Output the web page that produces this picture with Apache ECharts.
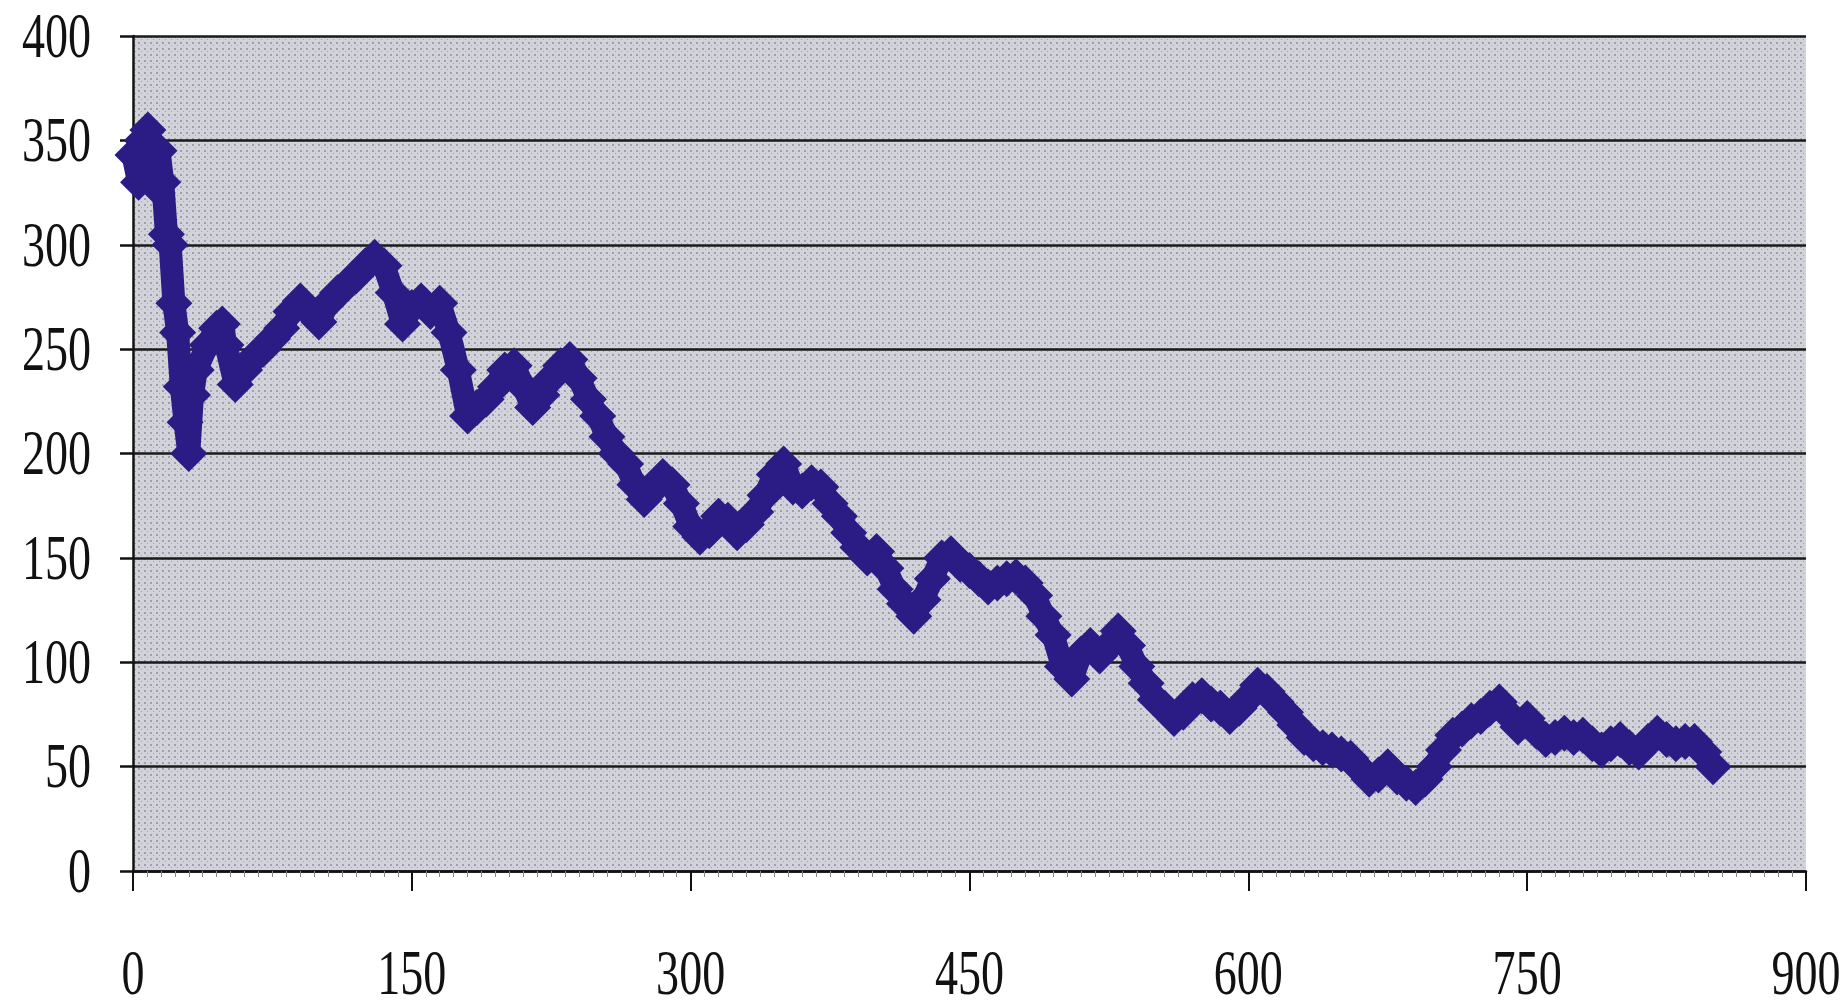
<!DOCTYPE html>
<html>
<head>
<meta charset="utf-8">
<script src="https://cdn.jsdelivr.net/npm/echarts@6/dist/echarts.min.js"></script>
<style>
html,body{margin:0;padding:0;background:#fff;}
#chart{width:1848px;height:1006px;}
</style>
</head>
<body>
<div id="chart"></div>
<script>
// x positions
const xValues = [0,3,5,8,10,12,14,16,18,20,22,24,26,28,30,32,34,
  40,45,48,50,55,60,65,70,75,80,85,90,95,100,105,110,115,120,125,130,135,140,145,
  150,155,160,165,170,175,180,185,190,195,200,205,210,215,220,225,230,235,240,245,
  250,255,260,265,270,275,280,285,290,295,300,305,310,315,320,325,330,335,340,345,
  350,355,360,365,370,375,380,385,390,395,400,405,410,415,420,425,430,435,440,445,
  450,455,460,465,470,475,480,485,490,495,500,505,510,515,520,525,530,535,540,545,
  550,555,560,565,570,575,580,585,590,595,600,605,610,615,620,625,630,635,640,645,
  650,655,660,665,670,675,680,685,690,695,700,705,710,715,720,725,730,735,740,745,
  750,755,760,765,770,775,780,785,790,795,800,805,810,815,820,825,830,835,840,845,850];
// values
const yValues = [343,330,350,355,340,328,345,330,305,300,272,258,232,215,200,228,240,
  252,260,262,252,233,240,246,250,255,260,268,273,268,263,272,277,281,285,290,294,290,277,262,
  270,273,268,272,258,240,218,222,226,232,240,242,232,222,228,236,242,245,236,226,
  218,208,200,195,185,178,183,189,185,176,165,160,163,170,168,162,166,172,180,190,
  195,184,182,186,184,176,170,162,155,150,153,145,135,128,122,130,140,150,152,147,
  144,140,136,138,140,141,138,132,122,113,98,92,104,108,103,108,115,108,98,90,
  82,78,73,76,82,84,80,78,74,78,83,89,86,81,76,70,64,61,59,58,
  56,54,49,44,46,50,45,42,40,44,50,58,65,68,72,74,78,81,75,69,
  73,67,63,64,66,64,65,61,58,61,63,59,57,62,66,63,61,62,62,57,50];
const xTicks = [0,150,300,450,600,750,900];
const yTicks = [0,50,100,150,200,250,300,350,400];

const data = xValues.map((x, i) => [x, yValues[i]]);

// dotted plot-area background
const pc = document.createElement('canvas');
pc.width = 6; pc.height = 6;
const px = pc.getContext('2d');
px.fillStyle = '#d2d2da';
px.fillRect(0, 0, 6, 6);
px.fillStyle = '#a0a0aa';
px.fillRect(0, 0, 2, 2);
px.fillRect(3, 3, 1, 1);

const chart = echarts.init(document.getElementById('chart'));
chart.setOption({
  animation: false,
  backgroundColor: '#ffffff',
  grid: {
    left: 133, right: 42, top: 36, bottom: 135,
    show: true,
    backgroundColor: {image: pc, repeat: 'repeat'},
    borderWidth: 0
  },
  xAxis: {
    type: 'value',
    min: xTicks[0], max: xTicks[xTicks.length - 1], interval: 150,
    axisLine: {show: true, onZero: false, lineStyle: {color: '#111', width: 2.5}},
    axisTick: {show: true, inside: false, length: 20, lineStyle: {color: '#111', width: 2}},
    minorTick: {show: true, splitNumber: 20, length: 6, lineStyle: {color: '#888', width: 1}},
    splitLine: {show: false},
    axisLabel: {show: false}
  },
  yAxis: {
    type: 'value',
    min: yTicks[0], max: yTicks[yTicks.length - 1], interval: 50,
    axisLine: {show: true, lineStyle: {color: '#111', width: 2.5}},
    axisTick: {show: true, inside: false, length: 13, lineStyle: {color: '#111', width: 2.5}},
    splitLine: {show: true, lineStyle: {color: '#1a1a1a', width: 2.5}},
    axisLabel: {show: false}
  },
  series: [{
    type: 'line',
    data: data,
    symbol: 'diamond',
    symbolSize: 37,
    showSymbol: true,
    showAllSymbol: true,
    lineStyle: {color: '#2b1b85', width: 23, join: 'round', cap: 'round'},
    itemStyle: {color: '#2b1b85'},
    z: 3
  }]
});

// Tick labels: narrow, tall serif digits like the reference, placed through the axes' own scales
const font = '64px "Liberation Serif", "Times New Roman", serif';
const labelEls = [];
yTicks.forEach(v => {
  const p = chart.convertToPixel({gridIndex: 0}, [xTicks[0], v]);
  labelEls.push({
    type: 'text', x: p[0] - 42, y: p[1] + 4, scaleX: 0.72, silent: true,
    style: {text: String(v), font: font, fill: '#111', align: 'right', verticalAlign: 'middle'}
  });
});
xTicks.forEach(u => {
  const p = chart.convertToPixel({gridIndex: 0}, [u, yTicks[0]]);
  labelEls.push({
    type: 'text', x: p[0], y: p[1] + 106, scaleX: 0.72, silent: true,
    style: {text: String(u), font: font, fill: '#111', align: 'center', verticalAlign: 'middle'}
  });
});
chart.setOption({graphic: {elements: labelEls}});
</script>
</body>
</html>
